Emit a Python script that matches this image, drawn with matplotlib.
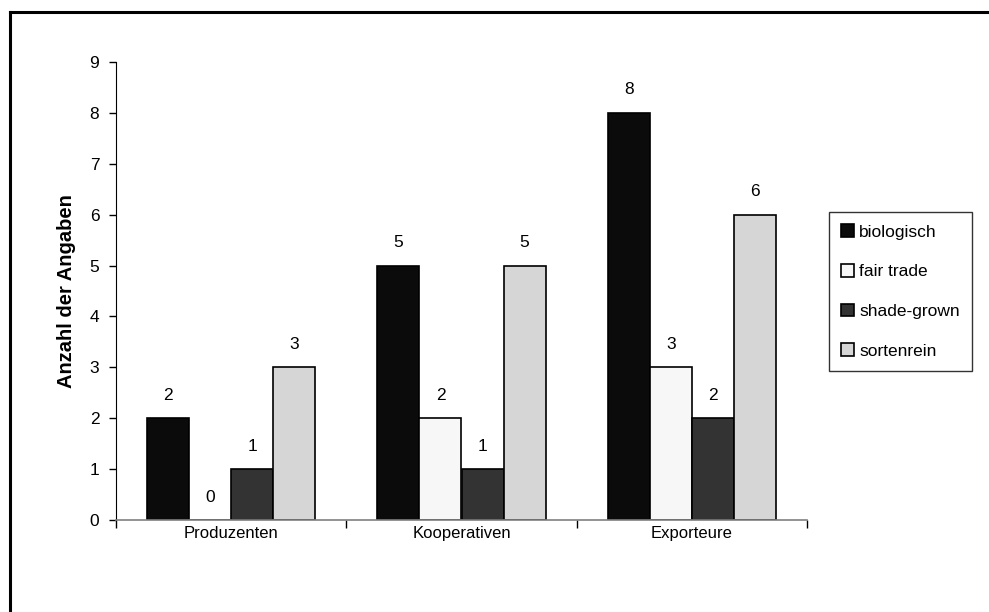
import numpy as np
import matplotlib
matplotlib.use("Agg")
import matplotlib.pyplot as plt
from matplotlib.lines import Line2D

plt.rcParams['font.family'] = ['Liberation Sans', 'DejaVu Sans']

categories = ["Produzenten", "Kooperativen", "Exporteure"]
series_names = ["biologisch", "fair trade", "shade-grown", "sortenrein"]
values = {
    "biologisch": [2, 5, 8],
    "fair trade": [0, 2, 3],
    "shade-grown": [1, 1, 2],
    "sortenrein": [3, 5, 6],
}
colors = ["#0b0b0b", "#f7f7f7", "#333333", "#d6d6d6"]
yticks = list(range(0, 10))

fig = plt.figure(figsize=(9.89, 6.12), dpi=100)
ax = fig.add_axes([116/989, 1 - 520/612, (807 - 116)/989, (520 - 62)/612])

n = len(series_names)
bar_w = 42/230.3
x = np.arange(len(categories)) + 0.5
for i, name in enumerate(series_names):
    pos = x + (i - (n - 1)/2) * bar_w
    ax.bar(pos, values[name], width=bar_w, color=colors[i], edgecolor="black",
           linewidth=1.2, label=name, zorder=2)
    for px, v in zip(pos, values[name]):
        ax.text(px, v + 0.45, str(v), ha="center", va="center", fontsize=12.5)

ax.set_xlim(0, len(categories))
ax.set_ylim(0, 9)
ax.set_yticks(yticks)
ax.set_yticklabels([str(t) for t in yticks], fontsize=12.5)
ax.set_xticks([0, 1, 2, 3])
ax.set_xticklabels([])
ax.set_xticks(x, minor=True)
ax.set_xticklabels(categories, minor=True, fontsize=12)
ax.tick_params(axis="x", which="minor", length=0, pad=4)
ax.tick_params(axis="x", which="major", direction="out", length=6, width=1, color="black")
ax.tick_params(axis="y", direction="out", length=5, width=1, pad=7)

for s in ["top", "right"]:
    ax.spines[s].set_visible(False)
ax.spines["left"].set_color("black")
ax.spines["bottom"].set_color("#808080")
ax.spines["bottom"].set_linewidth(1.2)

ax.set_ylabel("Anzahl der Angaben", fontsize=14.5, fontweight="bold", labelpad=10)

leg = ax.legend(loc="upper left", bbox_to_anchor=(829/989, 1 - 212/612),
                bbox_transform=fig.transFigure, frameon=True, fancybox=False,
                fontsize=12.5, handlelength=0.75, handleheight=0.75,
                labelspacing=1.4, borderpad=0.7, handletextpad=0.3,
                borderaxespad=0)
leg.get_frame().set_edgecolor("black")
leg.get_frame().set_linewidth(1.0)

# outer frame lines along top and left
fig.add_artist(Line2D([9.5/989, 1], [1 - 12/612, 1 - 12/612], transform=fig.transFigure,
                      color="black", linewidth=2.2))
fig.add_artist(Line2D([9.5/989, 9.5/989], [0, 1 - 12/612], transform=fig.transFigure,
                      color="black", linewidth=2.2))

fig.savefig("out.png", dpi=100)
